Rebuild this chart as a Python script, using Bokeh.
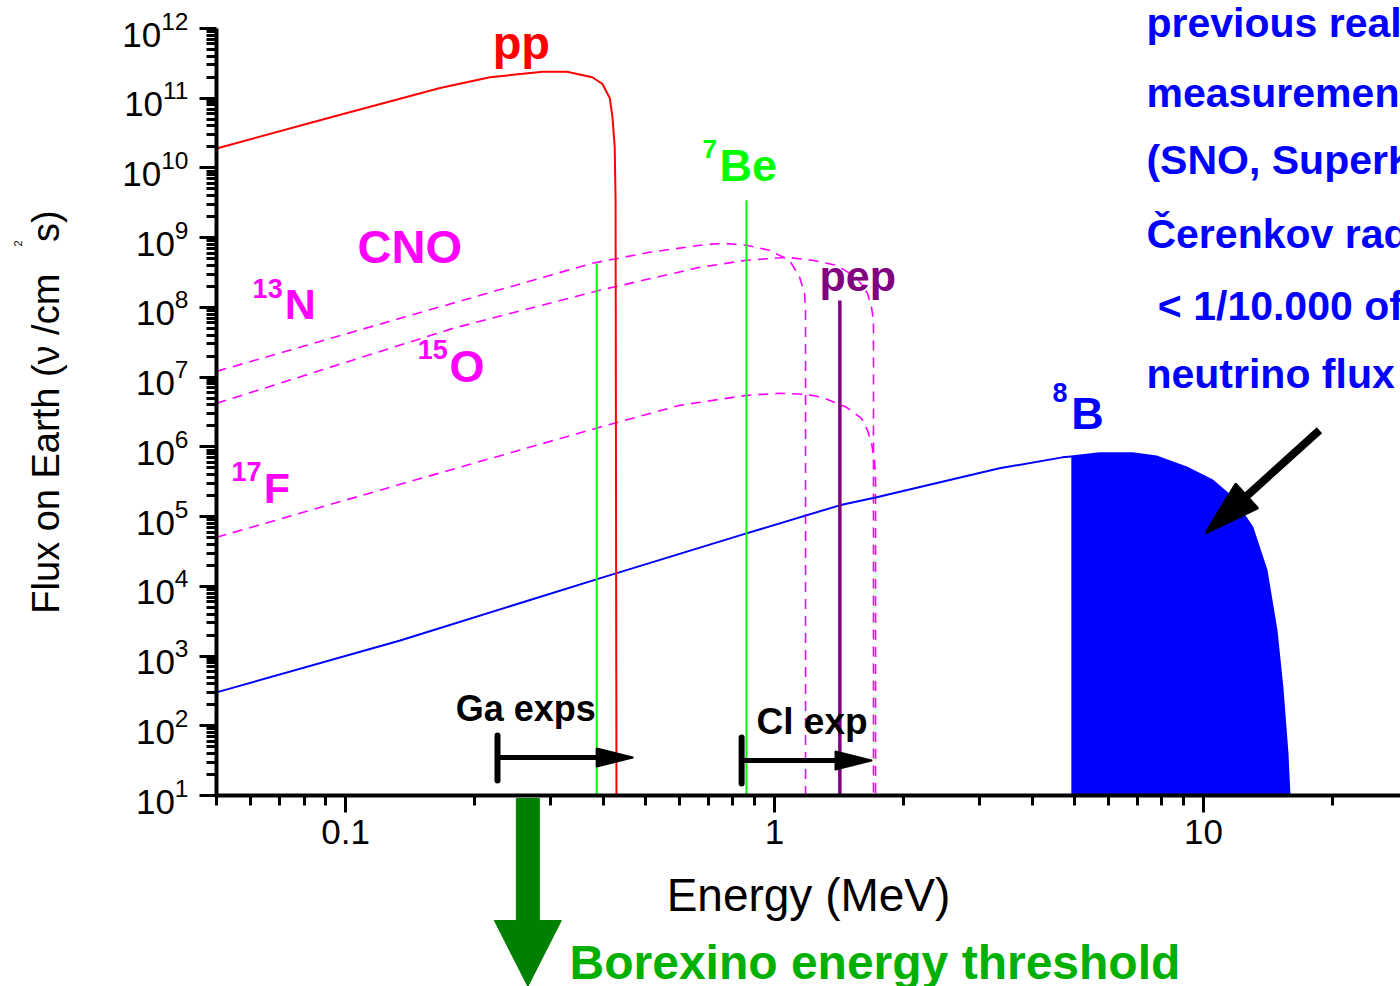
import math
import numpy as np
from bokeh.plotting import figure
from bokeh.models import (Range1d, FixedTicker, LogTickFormatter, CustomJSTickFormatter, Label)
from bokeh.embed import file_html
from bokeh.resources import INLINE

# ---------------- data ----------------
pp_energy = [0.05, 0.092, 0.166, 0.217, 0.288, 0.328, 0.376, 0.397, 0.413, 0.419, 0.424, 0.426, 0.428]
pp_flux = [1.9e10, 5.3e10, 1.4e11, 2.0e11, 2.4e11, 2.4e11, 2.0e11, 1.6e11, 1.0e11, 5.3e10, 2.0e10, 3.4e9, 10]

n13_energy = [0.05, 0.134, 0.376, 0.511, 0.669, 0.757, 0.860, 0.973, 1.084, 1.144, 1.175, 1.181, 1.181]
n13_flux = [1.21e7, 6.98e7, 4.30e8, 6.17e8, 7.78e8, 8.32e8, 7.78e8, 6.59e8, 4.74e8, 2.70e8, 1.59e8, 9.1e7, 10]

o15_energy = [0.05, 0.178, 0.391, 0.669, 0.860, 1.067, 1.226, 1.395, 1.553, 1.647, 1.683, 1.701, 1.701]
o15_flux = [4.21e6, 5.01e7, 1.76e8, 3.76e8, 4.74e8, 5.23e8, 4.74e8, 4.02e8, 2.70e8, 1.59e8, 1.0e8, 6.53e7, 10]

f17_energy = [0.05, 0.134, 0.391, 0.601, 0.860, 1.027, 1.188, 1.294, 1.472, 1.595, 1.647, 1.683, 1.711, 1.72, 1.72]
f17_flux = [5.04e4, 2.9e5, 1.91e6, 3.94e6, 5.48e6, 5.86e6, 5.66e6, 5.13e6, 3.69e6, 2.56e6, 1.73e6, 1.12e6, 6.4e5, 3.3e5, 10]

b8_energy = [0.05, 0.134, 0.391, 0.860, 1.418, 1.72, 3.345, 4.69, 4.92, 5.72, 6.83, 7.77, 9.13,
             10.5, 11.68, 13.0, 14.03, 14.8, 15.28, 15.7, 15.87]
b8_flux = [301, 1675, 1.3e4, 5.74e4, 1.45e5, 1.88e5, 4.92e5, 7.07e5, 7.3e5, 8.07e5, 8.07e5, 7.3e5, 5.08e5,
           3.3e5, 1.88e5, 7.0e4, 1.69e4, 2.33e3, 354, 40, 10]
b8_fill_from = 4.92  # MeV, start of shaded region

be7_energy = [0.385, 0.860]
be7_flux = [4.3e8, 3.44e9]
pep_energy = [1.42]
pep_flux = [1.26e8]

ga_threshold, ga_arrow_end = 0.226, 0.467
cl_threshold, cl_arrow_end = 0.838, 1.683
borexino_threshold = 0.266

# axis extents
E_MIN, E_MAX = 0.05, 28.8
F_MIN, F_MAX = 10, 1e12
x_major = [0.1, 1, 10]
x_minor = [0.05, 0.06, 0.07, 0.08, 0.09, 0.2, 0.3, 0.4, 0.5, 0.6, 0.7, 0.8, 0.9,
           2, 3, 4, 5, 6, 7, 8, 9, 20]
y_major = [10.0 ** k for k in range(1, 13)]
y_minor = [m * 10.0 ** k for k in range(1, 12) for m in range(2, 10)]

# ---------------- layout (pixels) ----------------
W, H = 1400, 986
AX_LEFT, AX_TOP, AX_BOTTOM = 216, 28, 795       # where the axes sit on the canvas
PXX = (W - AX_LEFT) / (math.log10(E_MAX) - math.log10(E_MIN))
PXY = (AX_BOTTOM - AX_TOP) / (math.log10(F_MAX) - math.log10(F_MIN))
X0 = 10 ** (math.log10(E_MIN) - AX_LEFT / PXX)
Y0 = 10 ** (math.log10(F_MIN) - (H - AX_BOTTOM) / PXY)
Y1 = 10 ** (math.log10(F_MAX) + AX_TOP / PXY)

FONT = "Liberation Sans"

p = figure(width=W, height=H, x_axis_type="log", y_axis_type="log",
           x_range=Range1d(X0, E_MAX), y_range=Range1d(Y0, Y1),
           output_backend="svg", toolbar_location=None,
           min_border=0, min_border_left=0, min_border_right=0,
           min_border_top=0, min_border_bottom=0)
p.title.visible = False
p.outline_line_color = None
p.grid.visible = False
p.background_fill_color = "white"
p.border_fill_color = "white"

for ax in (p.xaxis[0], p.yaxis[0]):
    ax.axis_line_width = 4
    ax.major_tick_line_width = 3
    ax.minor_tick_line_width = 3
    ax.major_tick_out = 17
    ax.major_tick_in = 0
    ax.minor_tick_out = 10
    ax.minor_tick_in = 0
    ax.major_label_text_font = FONT
    ax.major_label_text_font_size = "35px"
    ax.major_label_text_color = "black"
    ax.axis_label_text_font = FONT
    ax.axis_label_text_font_style = "normal"
    ax.axis_label_text_color = "black"

p.xaxis.fixed_location = F_MIN
p.xaxis.bounds = (E_MIN, E_MAX)
p.xaxis.ticker = FixedTicker(ticks=x_major, minor_ticks=x_minor)
p.xaxis.formatter = CustomJSTickFormatter(code="return tick.toString();")
p.xaxis.major_label_standoff = 7
p.xaxis.axis_label = "Energy (MeV)"
p.xaxis.axis_label_text_font_size = "46px"
p.xaxis.axis_label_standoff = 22

p.yaxis.fixed_location = E_MIN
p.yaxis.bounds = (F_MIN, F_MAX)
p.yaxis.ticker = FixedTicker(ticks=y_major, minor_ticks=y_minor)
p.yaxis.formatter = LogTickFormatter()
p.yaxis.major_label_standoff = 11
p.yaxis.axis_label = "Flux on Earth (\u03bd /cm\u00a0\u00a0 s)"
p.yaxis.axis_label_text_font_size = "38px"
p.yaxis.axis_label_standoff = 52

# ---------------- curves ----------------
dash = "10 7"
p.line(n13_energy, n13_flux, line_color="#ff00ff", line_width=1.6, line_dash=dash)
p.line(o15_energy, o15_flux, line_color="#ff00ff", line_width=1.6, line_dash=dash)
p.line(f17_energy, f17_flux, line_color="#ff00ff", line_width=1.6, line_dash=dash)

b8e = np.array(b8_energy)
b8f = np.array(b8_flux)
m = b8e >= b8_fill_from
p.varea(x=b8e[m], y1=np.full(m.sum(), F_MIN), y2=b8f[m], fill_color="#0000ff")
p.line(b8_energy, b8_flux, line_color="#0000ff", line_width=2)

p.line(pp_energy, pp_flux, line_color="#ff0000", line_width=2)

p.segment(x0=be7_energy, y0=[F_MIN] * len(be7_energy), x1=be7_energy, y1=be7_flux,
          line_color="#00ff00", line_width=2)
p.segment(x0=pep_energy, y0=[F_MIN] * len(pep_energy), x1=pep_energy, y1=pep_flux,
          line_color="#800080", line_width=3.5)


# ---------------- arrows ----------------
def head(tip_e, tip_f, ux, uy, length, half):
    lx, ly = math.log10(tip_e), math.log10(tip_f)
    bx = lx - length * ux / PXX
    by = ly - length * uy / PXY
    c1 = (bx + half * (-uy) / PXX, by + half * ux / PXY)
    c2 = (bx - half * (-uy) / PXX, by - half * ux / PXY)
    xs = [10 ** lx, 10 ** c1[0], 10 ** c2[0]]
    ys = [10 ** ly, 10 ** c1[1], 10 ** c2[1]]
    return xs, ys, 10 ** bx, 10 ** by


def threshold_arrow(x_start, x_end, y_shaft, bar_lo, bar_hi):
    xs, ys, bx, by = head(x_end, y_shaft, 1, 0, 36, 9)
    p.segment(x0=[x_start], y0=[y_shaft], x1=[bx], y1=[y_shaft], line_color="black", line_width=5)
    p.segment(x0=[x_start], y0=[bar_lo], x1=[x_start], y1=[bar_hi], line_color="black",
              line_width=6, line_cap="round")
    p.patch(xs, ys, fill_color="black", line_color="black", line_width=2, line_join="round")


threshold_arrow(ga_threshold, ga_arrow_end, 35, 16.4, 72.6)
threshold_arrow(cl_threshold, cl_arrow_end, 31.8, 14.9, 67.9)

# pointer to the 8B region
s_e, s_f = 18.64, 1.73e6
t_e, t_f = 10.16, 5.93e4
dx = (math.log10(t_e) - math.log10(s_e)) * PXX
dy = (math.log10(t_f) - math.log10(s_f)) * PXY
nrm = math.hypot(dx, dy)
xs, ys, bx, by = head(t_e, t_f, dx / nrm, dy / nrm, 54, 16)
p.segment(x0=[s_e], y0=[s_f], x1=[bx], y1=[by], line_color="black", line_width=8)
p.patch(xs, ys, fill_color="black", line_color="black", line_width=3, line_join="round")

# Borexino threshold arrow below the axis: shaft + head as one polygon
lx = math.log10(borexino_threshold)
top = math.log10(F_MIN) - 3 / PXY
hb = math.log10(F_MIN) - 125 / PXY
tip = math.log10(Y0)
sw, hw = 11.5 / PXX, 33.5 / PXX
arrow_xs = [10 ** (lx - sw), 10 ** (lx + sw), 10 ** (lx + sw), 10 ** (lx + hw), 10 ** lx,
            10 ** (lx - hw), 10 ** (lx - sw)]
arrow_ys = [10 ** top, 10 ** top, 10 ** hb, 10 ** hb, 10 ** tip, 10 ** hb, 10 ** hb]
p.patch(arrow_xs, arrow_ys, fill_color="#008000", line_color="#008000", line_width=1)


# ---------------- labels ----------------
def lab(x, y, text, color, size, bold=True, align="left", angle=0.0, baseline="alphabetic", lift=True):
    p.add_layout(Label(x=x, y=y, text=text, text_color=color, text_font=FONT,
                       text_font_size=f"{size}px", text_font_style="bold" if bold else "normal",
                       text_align=align, text_baseline=baseline, angle=angle,
                       y_offset=round(0.33 * size) if lift else 0))


lab(0.2202, 3.75e11, "pp", "#ff0000", 47)
lab(0.6797, 1.38e10, "7", "#00ff00", 26)
lab(0.7444, 6.67e9, "Be", "#00ff00", 45)
lab(0.1066, 4.44e8, "CNO", "#ff00ff", 47)
lab(0.0607, 1.40e8, "13", "#ff00ff", 27)
lab(0.0721, 6.98e7, "N", "#ff00ff", 43)
lab(0.1472, 1.86e7, "15", "#ff00ff", 27)
lab(0.1747, 8.71e6, "O", "#ff00ff", 45)
lab(0.0542, 3.30e5, "17", "#ff00ff", 27)
lab(0.0644, 1.60e5, "F", "#ff00ff", 43)
lab(1.273, 1.76e8, "pep", "#800080", 43)
lab(4.446, 4.5e6, "8", "#0000ff", 27)
lab(4.92, 1.84e6, "B", "#0000ff", 45)
lab(0.1805, 119, "Ga exps", "black", 36)
lab(0.9078, 77.5, "Cl exp", "black", 37)

note_lines = ["previous real-time", "measurements", "(SNO, SuperK)",
              "\u010cerenkov radiation", "\u00a0< 1/10.000 of", "neutrino flux"]
note_y = [7.50e11, 7.43e10, 8.13e9, 7.05e8, 6.53e7, 6.90e6]
for t, yy in zip(note_lines, note_y):
    lab(7.364, yy, t, "#0000ff", 41)

lab(0.3327, 0.0237, "Borexino energy threshold", "#00b000", 48)
lab(0.0172, 8.3e8, "2", "black", 11, bold=False, align="center", angle=math.pi / 2,
    baseline="middle", lift=False)

open("out.html", "w").write(file_html(p, INLINE))
